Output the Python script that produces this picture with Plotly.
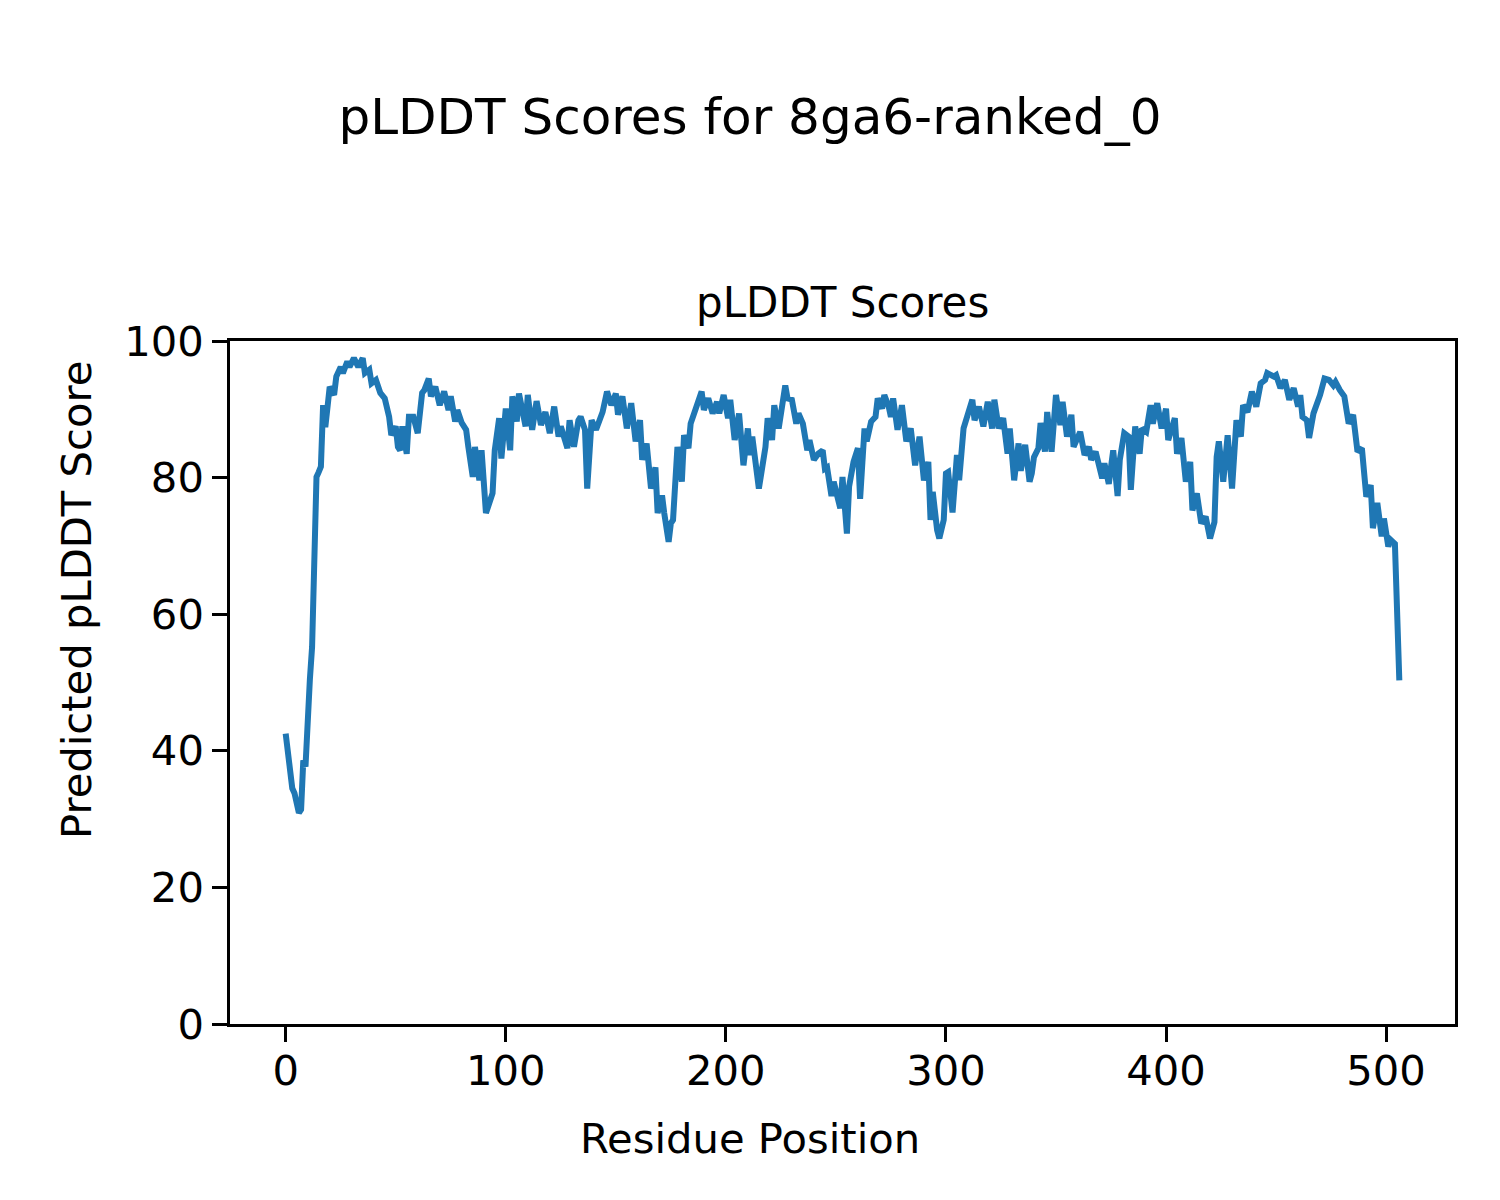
import plotly.graph_objects as go

# Residue positions and pLDDT values
residues = [0, 3, 4, 6, 7, 8, 9, 10, 11, 12, 13, 14, 15, 16, 17, 18, 19, 20, 22, 23, 25, 26, 28, 29, 31, 33, 35, 36, 38, 39,
            41, 43, 45, 47, 48, 50, 51, 52, 53, 55, 56, 58, 60, 61, 62, 63, 65, 66, 68, 70, 72, 74, 75, 77, 78, 80, 82, 83, 85, 86,
            88, 89, 91, 94, 95, 97, 98, 100, 102, 103, 105, 106, 109, 110, 112, 114, 116, 118, 120, 122, 124, 125, 128, 129, 131, 133, 134, 136, 137, 139,
            141, 144, 146, 148, 150, 151, 153, 155, 157, 159, 161, 162, 164, 166, 168, 169, 171, 172, 174, 175, 176, 178, 180, 181, 183, 184, 186, 187, 189, 190,
            192, 194, 196, 197, 199, 201, 202, 204, 206, 208, 210, 211, 212, 215, 216, 218, 219, 221, 222, 224, 227, 228, 230, 232, 233, 235, 237, 238, 240, 242,
            244, 245, 246, 248, 249, 252, 253, 255, 256, 258, 260, 261, 263, 264, 266, 268, 269, 271, 272, 274, 275, 276, 278, 280, 282, 284, 286, 288, 290, 292,
            293, 294, 296, 297, 299, 300, 301, 303, 305, 306, 308, 309, 312, 313, 315, 317, 319, 321, 322, 324, 326, 328, 329, 331, 333, 334, 336, 338, 339, 340,
            341, 342, 343, 345, 346, 348, 350, 352, 353, 355, 357, 358, 361, 363, 365, 366, 368, 371, 372, 374, 376, 378, 379, 381, 383, 384, 386, 388, 389, 391,
            393, 394, 396, 398, 400, 401, 404, 405, 407, 409, 411, 412, 414, 416, 418, 419, 420, 422, 423, 424, 426, 428, 430, 432, 434, 435, 437, 439, 441, 443,
            445, 446, 449, 450, 452, 454, 456, 458, 460, 461, 462, 464, 465, 467, 469, 470, 472, 474, 476, 477, 479, 481, 483, 485, 487, 489, 491, 493, 494, 496,
            498, 499, 501, 502, 504, 505, 506]
plddt = [42.5, 34.5, 33.8, 30.9, 31.4, 38.6, 37.7, 46.4, 50.5, 55.2, 68.0, 80.1, 80.8, 81.6, 90.6, 87.4, 90.3, 93.3, 92.1, 94.8, 96.2, 95.3, 97.0, 96.2, 97.5, 96.2, 97.5, 95.3, 95.8, 93.8,
         94.3, 92.4, 91.6, 88.9, 86.2, 87.5, 84.5, 84.0, 87.5, 83.5, 88.9, 88.9, 86.5, 88.9, 92.4, 92.8, 94.5, 91.9, 93.3, 90.6, 92.6, 89.9, 91.9, 88.2, 89.9, 88.0, 87.0, 84.5, 80.1, 84.5,
         79.6, 84.0, 74.8, 77.7, 84.0, 88.7, 82.8, 90.1, 84.0, 91.9, 88.2, 92.3, 87.5, 92.1, 87.0, 91.2, 87.7, 89.6, 86.5, 90.4, 86.0, 87.5, 84.3, 88.4, 84.5, 88.4, 88.9, 87.0, 78.4, 88.4,
         87.0, 89.6, 92.6, 90.6, 92.3, 89.2, 91.9, 87.2, 90.9, 85.3, 88.4, 82.6, 85.0, 78.4, 81.5, 74.8, 77.4, 74.8, 70.6, 73.3, 73.8, 84.5, 79.4, 86.2, 84.3, 87.9, 89.6, 90.4, 92.6, 89.9,
         91.6, 89.4, 91.1, 89.4, 92.1, 88.7, 91.4, 85.5, 89.4, 81.8, 87.2, 83.3, 86.0, 78.4, 80.6, 84.5, 88.7, 85.5, 90.6, 87.2, 93.5, 91.6, 91.4, 87.9, 89.4, 87.9, 84.0, 85.5, 82.6, 83.5,
         84.0, 81.3, 81.5, 77.3, 79.4, 75.5, 80.1, 71.8, 78.7, 82.3, 84.3, 76.9, 87.2, 85.3, 88.2, 88.9, 91.6, 90.1, 92.1, 90.4, 88.9, 91.6, 87.0, 90.6, 85.3, 87.2, 81.8, 86.0, 79.6, 82.3,
         73.8, 77.9, 72.3, 71.1, 73.8, 80.6, 80.8, 74.9, 83.3, 79.6, 87.2, 88.4, 91.4, 88.4, 90.4, 87.5, 91.1, 87.2, 91.4, 87.2, 88.7, 83.5, 87.2, 79.6, 85.0, 81.0, 84.8, 79.4, 80.6, 83.0,
         83.5, 84.3, 88.0, 83.8, 89.6, 83.8, 92.1, 87.7, 91.1, 86.0, 89.2, 84.5, 86.7, 83.3, 84.5, 82.6, 83.8, 79.9, 82.1, 79.1, 84.0, 77.3, 82.6, 86.5, 86.0, 78.2, 87.5, 83.5, 87.2, 86.7,
         90.6, 87.9, 90.9, 87.2, 90.1, 85.5, 88.7, 83.5, 85.8, 79.4, 82.3, 75.2, 77.7, 73.3, 74.3, 72.6, 71.1, 73.5, 83.0, 85.3, 79.4, 86.2, 78.4, 88.4, 86.0, 90.6, 89.6, 92.6, 90.4, 93.8,
         94.3, 95.3, 94.8, 95.0, 93.1, 94.3, 91.4, 93.1, 90.4, 92.1, 88.9, 88.4, 85.8, 89.4, 91.1, 92.1, 94.5, 94.3, 93.5, 94.0, 92.8, 91.9, 87.9, 89.2, 83.8, 84.3, 77.2, 78.9, 72.6, 76.3,
         71.4, 74.0, 69.9, 70.9, 70.3, 62.0, 50.3]

x_ticks = [0, 100, 200, 300, 400, 500]
y_ticks = [0, 20, 40, 60, 80, 100]

main_title = "pLDDT Scores for 8ga6-ranked_0"
sub_title = "pLDDT Scores"
x_label = "Residue Position"
y_label = "Predicted pLDDT Score"

FONT = "DejaVu Sans"
W, H = 1500, 1200
OFF = 8  # page body margin offset
L, R, T, B = 230 - OFF, 1500 - (1455 - OFF), 341 - OFF, 1200 - (1024 - OFF)
pw, ph = W - L - R, H - T - B

fig = go.Figure()
fig.add_trace(go.Scatter(x=residues, y=plddt, mode="lines",
                         line=dict(color="#1f77b4", width=6), showlegend=False))

axis_common = dict(showline=True, linecolor="black", linewidth=3.3, mirror=True,
                   ticks="outside", ticklen=14.6, tickwidth=3.3, tickcolor="black",
                   showgrid=False, zeroline=False,
                   tickfont=dict(family=FONT, size=41.7, color="black"))
fig.update_xaxes(range=[-25.3, 531.3], tickvals=x_ticks, ticklabelstandoff=-7, **axis_common)
fig.update_yaxes(range=[0, 100], tickvals=y_ticks, **axis_common)

fig.update_layout(
    width=W, height=H,
    margin=dict(l=L, r=R, t=T, b=B),
    plot_bgcolor="white", paper_bgcolor="white",
    title=dict(text=main_title, x=(750 - OFF) / W, xref="container", xanchor="center",
               y=1 - (116 - OFF) / H, yref="container", yanchor="middle",
               font=dict(family=FONT, size=50, color="black")),
)

fig.add_annotation(text=sub_title, xref="paper", yref="paper", x=0.5, y=1,
                   xanchor="center", yanchor="bottom", yshift=12, showarrow=False,
                   font=dict(family=FONT, size=42, color="black"))
fig.add_annotation(text=x_label, xref="paper", yref="paper",
                   x=(750 - OFF - L) / pw, y=(H - B - (1138 - OFF)) / ph,
                   xanchor="center", yanchor="middle", showarrow=False,
                   font=dict(family=FONT, size=41.7, color="black"))
fig.add_annotation(text=y_label, xref="paper", yref="paper",
                   x=(76 - OFF - L) / pw, y=(H - B - (600 - OFF)) / ph, textangle=-90,
                   xanchor="center", yanchor="middle", showarrow=False,
                   font=dict(family=FONT, size=41.7, color="black"))

fig.write_html("out.html")
